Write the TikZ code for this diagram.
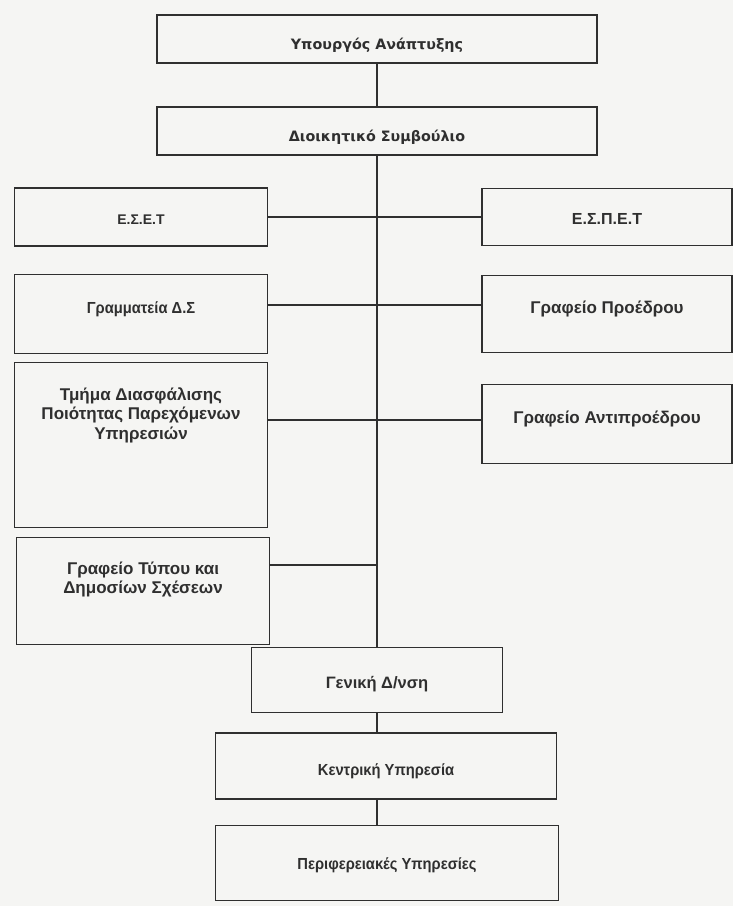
\documentclass[tikz,border=0pt]{standalone}
\usepackage{fontspec}
\setmainfont{Liberation Sans}
\newfontfamily\headfont{DejaVu Sans}
\newfontfamily\narrowfont[FakeStretch=0.92]{Liberation Sans}

\definecolor{ink}{HTML}{2F2F2F}
\definecolor{paper}{HTML}{F5F5F3}

\tikzset{
  unit/.style={draw=ink, line width=1.1pt, text=ink, align=center, inner sep=2pt},
  head/.style={minimum width=440pt, minimum height=48pt,
    font=\headfont\bfseries\fontsize{14.3}{17}\selectfont, text height=23pt, text depth=3pt},
  side/.style={minimum width=253pt, font=\bfseries\fontsize{17}{19.5}\selectfont,
    text height=19pt, text depth=4pt},
  raised/.style={text height=12pt, text depth=13pt},
  plain/.style={font=\narrowfont\bfseries\fontsize{16}{19.2}\selectfont}
}

\begin{document}
\begin{tikzpicture}[x=1pt,y=-1pt]
  \fill[paper] (0,0) rectangle (733,906);
  \useasboundingbox (0,0) rectangle (733,906);

  \begin{scope}[every node/.style={unit}]
    \node[head] (minister) at (377,39)  {Υπουργός Ανάπτυξης};
    \node[head] (board)    at (377,131) {Διοικητικό Συμβούλιο};

    \node[side, minimum height=58pt, font=\bfseries\fontsize{14}{17}\selectfont] (eset) at (141,217) {Ε.Σ.Ε.Τ};
    \node[side, minimum height=79pt, plain, raised] (grammateia) at (141,314) {Γραμματεία Δ.Σ};
    \node[side, minimum height=165pt, text height=50pt, text depth=62pt] (tmima) at (141,445)
      {Τμήμα Διασφάλισης\\Ποιότητας Παρεχόμενων\\Υπηρεσιών};
    \node[side, minimum height=107pt, text height=31pt, text depth=26pt] (typou) at (143,591)
      {Γραφείο Τύπου και\\Δημοσίων Σχέσεων};

    \node[side, minimum width=250pt, minimum height=57pt, font=\bfseries\fontsize{16}{19}\selectfont] (espet) at (607,217) {Ε.Σ.Π.Ε.Τ};
    \node[side, minimum width=250pt, minimum height=77pt, raised] (proedrou) at (607,314) {Γραφείο Προέδρου};
    \node[side, minimum width=250pt, minimum height=79pt, raised] (antiproedrou) at (607,424) {Γραφείο Αντιπροέδρου};

    \node[side, minimum width=251pt, minimum height=65pt, text height=21.5pt,
      font=\bfseries\fontsize{16.5}{19}\selectfont] (general) at (377,680) {Γενική Δ/νση};
    \node[plain, minimum width=341pt, minimum height=66pt, text height=23.5pt, text depth=4pt] (central) at (386,766) {Κεντρική Υπηρεσία};
    \node[plain, minimum width=343pt, minimum height=75pt, text height=17.5pt, text depth=4pt] (regional) at (387,863) {Περιφερειακές Υπηρεσίες};
  \end{scope}

  \begin{scope}[every edge/.style={draw=ink, line width=1.1pt}]
    \path (minister.south) edge (board.north);
    \path (board.south) edge (general.north);
    \path (eset.east) edge (espet.west);
    \path ([yshift=9pt]grammateia.east) edge ([yshift=9pt]proedrou.west);
    \path ([yshift=25pt]tmima.east) edge ([yshift=4pt]antiproedrou.west);
    \path ([yshift=26pt]typou.east) edge ([yshift=26pt]typou.east -| board.south);
    \path (general.south) edge (general.south |- central.north);
    \path (central.south -| general.south) edge (regional.north -| general.south);
  \end{scope}

\end{tikzpicture}
\end{document}
